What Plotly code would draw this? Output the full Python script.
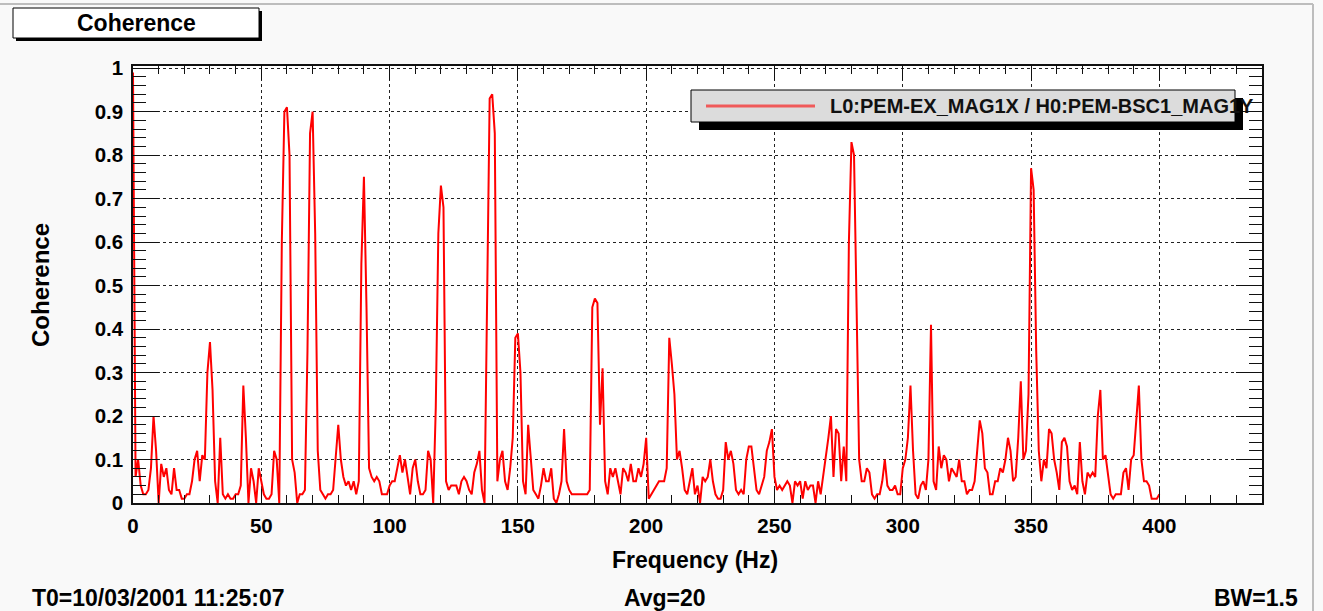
import plotly.graph_objects as go

# ---------------- data ----------------
freq_hz = list(range(0, 401))
coherence = [
    0.99, 0.06, 0.10, 0.04, 0.02, 0.02, 0.03, 0.08, 0.20, 0.12,
    0.00, 0.09, 0.06, 0.08, 0.03, 0.02, 0.08, 0.03, 0.03, 0.01,
    0.01, 0.02, 0.02, 0.05, 0.10, 0.12, 0.05, 0.11, 0.10, 0.30,
    0.37, 0.26, 0.05, 0.00, 0.15, 0.02, 0.01, 0.02, 0.01, 0.01,
    0.02, 0.02, 0.04, 0.27, 0.15, 0.00, 0.08, 0.05, 0.00, 0.08,
    0.05, 0.02, 0.01, 0.01, 0.02, 0.12, 0.10, 0.00, 0.60, 0.90,
    0.91, 0.80, 0.10, 0.07, 0.00, 0.02, 0.02, 0.03, 0.35, 0.85,
    0.90, 0.62, 0.12, 0.03, 0.02, 0.01, 0.02, 0.02, 0.03, 0.10,
    0.18, 0.10, 0.06, 0.04, 0.05, 0.03, 0.05, 0.02, 0.05, 0.55,
    0.75, 0.45, 0.08, 0.06, 0.05, 0.06, 0.05, 0.02, 0.02, 0.02,
    0.04, 0.05, 0.05, 0.08, 0.11, 0.07, 0.10, 0.06, 0.02, 0.08,
    0.10, 0.05, 0.02, 0.02, 0.03, 0.12, 0.10, 0.00, 0.22, 0.62,
    0.73, 0.68, 0.05, 0.03, 0.04, 0.04, 0.04, 0.02, 0.05, 0.06,
    0.05, 0.03, 0.02, 0.07, 0.09, 0.12, 0.03, 0.00, 0.45, 0.93,
    0.94, 0.85, 0.05, 0.10, 0.12, 0.05, 0.03, 0.08, 0.15, 0.38,
    0.39, 0.30, 0.05, 0.02, 0.18, 0.10, 0.03, 0.02, 0.01, 0.04,
    0.08, 0.05, 0.05, 0.08, 0.01, 0.00, 0.02, 0.05, 0.17, 0.05,
    0.03, 0.02, 0.02, 0.02, 0.02, 0.02, 0.02, 0.02, 0.03, 0.45,
    0.47, 0.46, 0.18, 0.31, 0.05, 0.02, 0.08, 0.06, 0.08, 0.05,
    0.02, 0.08, 0.07, 0.05, 0.09, 0.05, 0.05, 0.08, 0.06, 0.09,
    0.15, 0.01, 0.02, 0.03, 0.04, 0.05, 0.05, 0.05, 0.08, 0.38,
    0.32, 0.25, 0.10, 0.12, 0.08, 0.03, 0.02, 0.05, 0.08, 0.02,
    0.04, 0.00, 0.06, 0.05, 0.06, 0.10, 0.05, 0.02, 0.01, 0.01,
    0.03, 0.14, 0.10, 0.12, 0.09, 0.03, 0.02, 0.03, 0.02, 0.10,
    0.13, 0.13, 0.08, 0.03, 0.02, 0.04, 0.06, 0.12, 0.14, 0.17,
    0.06, 0.03, 0.04, 0.03, 0.04, 0.05, 0.04, 0.00, 0.05, 0.04,
    0.05, 0.01, 0.05, 0.03, 0.04, 0.04, 0.00, 0.05, 0.02, 0.06,
    0.10, 0.15, 0.20, 0.06, 0.17, 0.16, 0.05, 0.13, 0.05, 0.60,
    0.83, 0.80, 0.45, 0.10, 0.05, 0.05, 0.08, 0.07, 0.02, 0.01,
    0.02, 0.02, 0.05, 0.10, 0.04, 0.03, 0.03, 0.04, 0.02, 0.02,
    0.08, 0.10, 0.15, 0.27, 0.12, 0.02, 0.01, 0.04, 0.05, 0.03,
    0.10, 0.41, 0.05, 0.03, 0.13, 0.08, 0.11, 0.10, 0.05, 0.08,
    0.07, 0.06, 0.10, 0.05, 0.05, 0.02, 0.03, 0.03, 0.05, 0.12,
    0.19, 0.16, 0.08, 0.07, 0.02, 0.02, 0.05, 0.05, 0.08, 0.07,
    0.10, 0.15, 0.12, 0.05, 0.06, 0.15, 0.28, 0.10, 0.12, 0.25,
    0.77, 0.72, 0.35, 0.12, 0.05, 0.10, 0.08, 0.17, 0.16, 0.10,
    0.07, 0.03, 0.14, 0.15, 0.13, 0.05, 0.03, 0.04, 0.02, 0.14,
    0.05, 0.02, 0.07, 0.06, 0.07, 0.06, 0.20, 0.26, 0.10, 0.11,
    0.06, 0.02, 0.01, 0.02, 0.02, 0.02, 0.07, 0.08, 0.03, 0.10,
    0.11, 0.20, 0.27, 0.10, 0.05, 0.05, 0.04, 0.01, 0.01, 0.01,
    0.02,
]
series_name = "L0:PEM-EX_MAG1X / H0:PEM-BSC1_MAG1Y"
chart_title = "Coherence"
x_title = "Frequency (Hz)"
y_title = "Coherence"
footer_left = "T0=10/03/2001 11:25:07"
footer_mid = "Avg=20"
footer_right = "BW=1.5"

# ---------------- layout geometry (pixels) ----------------
W, H = 1323, 611
L, R, T, B = 133, 1262, 66, 503
FONT = "Liberation Sans, Arial, Helvetica, sans-serif"


def px(x):
    return (x - L) / (R - L)


def py(y):
    return (B - y) / (B - T)


fig = go.Figure()
fig.add_trace(go.Scatter(
    x=freq_hz, y=coherence, mode="lines", name=series_name,
    line=dict(color="#ff0000", width=2), showlegend=False,
))

axis_common = dict(
    showline=True, linecolor="#111", linewidth=1.5, mirror="ticks",
    ticks="inside", tickcolor="#111", tickwidth=1,
    showgrid=True, gridcolor="#222", gridwidth=1, griddash="dot",
    zeroline=False,
    tickfont=dict(family=FONT, size=20.5, color="black", weight="bold"),
    ticklabelstandoff=4,
)

fig.update_xaxes(
    range=[0, 440], tickmode="linear", tick0=0, dtick=50, ticklen=14,
    minor=dict(tick0=0, dtick=10, ticklen=8, ticks="inside", tickcolor="#111", showgrid=False),
    **axis_common,
)
fig.update_yaxes(
    range=[0, 1.005], tickmode="linear", tick0=0, dtick=0.1, ticklen=26,
    minor=dict(tick0=0, dtick=0.02, ticklen=13, ticks="inside", tickcolor="#111", showgrid=False),
    **axis_common,
)

shapes = [
    # canvas border
    dict(type="line", xref="paper", yref="paper", x0=px(0), x1=px(1313), y0=py(4), y1=py(4),
         line=dict(color="#bdbdbd", width=2)),
    dict(type="line", xref="paper", yref="paper", x0=px(1313), x1=px(1313), y0=py(4), y1=py(611),
         line=dict(color="#bdbdbd", width=2)),
    # title box shadow + box
    dict(type="rect", xref="paper", yref="paper", x0=px(16), x1=px(262), y0=py(41), y1=py(11),
         fillcolor="black", line=dict(width=0)),
    dict(type="rect", xref="paper", yref="paper", x0=px(13), x1=px(259), y0=py(38), y1=py(8),
         fillcolor="white", line=dict(color="black", width=1)),
    # legend shadow + box
    dict(type="rect", xref="paper", yref="paper", x0=px(699), x1=px(1243), y0=py(130), y1=py(98),
         fillcolor="black", line=dict(width=0)),
    dict(type="rect", xref="paper", yref="paper", x0=px(691), x1=px(1235), y0=py(122), y1=py(90),
         fillcolor="#dcdcdc", line=dict(color="black", width=1)),
    dict(type="line", xref="paper", yref="paper", x0=px(706), x1=px(815), y0=py(106), y1=py(106),
         line=dict(color="#f05a5a", width=3)),
]


def note(text, x, y, size, xanchor="center", angle=0, color="black"):
    return dict(text=text, x=px(x), y=py(y), xref="paper", yref="paper",
                xanchor=xanchor, yanchor="middle", textangle=angle, showarrow=False,
                font=dict(family=FONT, size=size, color=color, weight="bold"))


annotations = [
    note(chart_title, 136, 23, 23),
    note(series_name, 828, 106, 20, xanchor="left", color="#111"),
    note(y_title, 40, 285, 24, angle=-90),
    note(x_title, 695, 560, 23),
    note(footer_left, 30, 598, 23, xanchor="left"),
    note(footer_mid, 665, 598, 23),
    note(footer_right, 1300, 598, 23, xanchor="right"),
]

fig.update_layout(
    width=W, height=H, autosize=False,
    margin=dict(l=L, r=W - R, t=T, b=H - B, pad=0),
    paper_bgcolor="#f9f9f9", plot_bgcolor="white",
    shapes=shapes, annotations=annotations, showlegend=False,
)

fig.write_html(
    "out.html",
    config={"displayModeBar": False},
    post_script="document.body.style.margin='0px';document.body.style.overflow='hidden';",
)
